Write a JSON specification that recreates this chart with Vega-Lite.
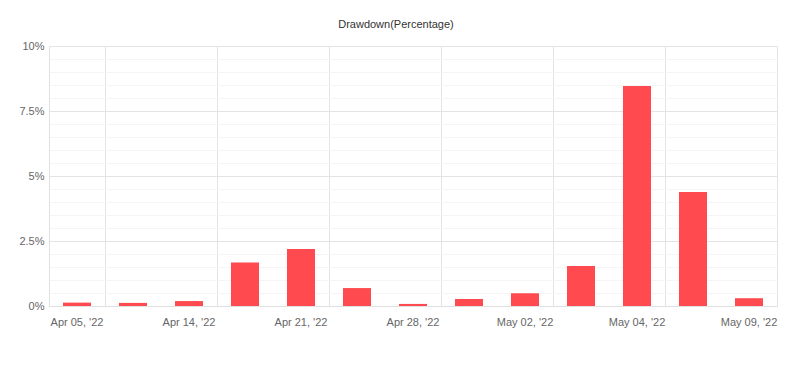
{
  "$schema": "https://vega.github.io/schema/vega-lite/v6.json",
  "autosize": "none",
  "width": 728,
  "height": 260,
  "padding": {"left": 49, "top": 46, "right": 15, "bottom": 63},
  "background": "white",
  "title": {
    "text": "Drawdown(Percentage)",
    "font": "Liberation Sans",
    "fontSize": 11,
    "fontWeight": "normal",
    "color": "#333333",
    "anchor": "middle",
    "dx": -17,
    "offset": 10
  },
  "config": {
    "view": {"stroke": null},
    "axis": {"labelFont": "Liberation Sans", "labelFontSize": 11, "labelColor": "#666666"}
  },
  "data": {
    "values": [
      {"date": "Apr 05, '22", "drawdown": 0.13},
      {"date": "Apr 11, '22", "drawdown": 0.12},
      {"date": "Apr 14, '22", "drawdown": 0.19},
      {"date": "Apr 19, '22", "drawdown": 1.67},
      {"date": "Apr 21, '22", "drawdown": 2.19},
      {"date": "Apr 25, '22", "drawdown": 0.69},
      {"date": "Apr 28, '22", "drawdown": 0.08},
      {"date": "Apr 29, '22", "drawdown": 0.27},
      {"date": "May 02, '22", "drawdown": 0.49},
      {"date": "May 03, '22", "drawdown": 1.54},
      {"date": "May 04, '22", "drawdown": 8.46},
      {"date": "May 06, '22", "drawdown": 4.38},
      {"date": "May 09, '22", "drawdown": 0.3}
    ]
  },
  "resolve": {"axis": {"x": "independent", "y": "independent"}},
  "layer": [
    {
      "mark": {"type": "bar", "color": "#ff4b4f"},
      "encoding": {
        "x": {
          "field": "date",
          "type": "ordinal",
          "sort": null,
          "scale": {"paddingInner": 0.5, "paddingOuter": 0.25},
          "axis": {
            "title": null,
            "labelAngle": 0,
            "ticks": false,
            "grid": false,
            "labelPadding": 10,
            "domainColor": "#e0e0e0",
            "values": ["Apr 05, '22", "Apr 14, '22", "Apr 21, '22", "Apr 28, '22", "May 02, '22", "May 04, '22", "May 09, '22"]
          }
        },
        "y": {
          "field": "drawdown",
          "type": "quantitative",
          "scale": {"domain": [0, 10]},
          "axis": {
            "title": null,
            "values": [0, 0.5, 1, 1.5, 2, 2.5, 3, 3.5, 4, 4.5, 5, 5.5, 6, 6.5, 7, 7.5, 8, 8.5, 9, 9.5, 10],
            "labelExpr": "datum.value % 2.5 === 0 ? datum.value + '%' : ''",
            "ticks": false,
            "labelPadding": 5,
            "domainColor": "#e0e0e0",
            "grid": true,
            "gridColor": {"condition": {"test": "datum.value % 2.5 === 0", "value": "#e4e4e4"}, "value": "#f5f5f5"}
          }
        }
      }
    },
    {
      "mark": {"type": "bar", "opacity": 0},
      "encoding": {
        "x": {
          "field": "date",
          "type": "ordinal",
          "sort": null,
          "axis": {
            "orient": "top",
            "title": null,
            "labels": false,
            "ticks": false,
            "domain": false,
            "grid": true,
            "gridColor": "#e4e4e4",
            "bandPosition": 1.5,
            "values": ["Apr 05, '22", "Apr 14, '22", "Apr 21, '22", "Apr 28, '22", "May 02, '22", "May 04, '22", "May 09, '22"]
          }
        },
        "y": {"field": "drawdown", "type": "quantitative", "axis": null}
      }
    }
  ]
}
